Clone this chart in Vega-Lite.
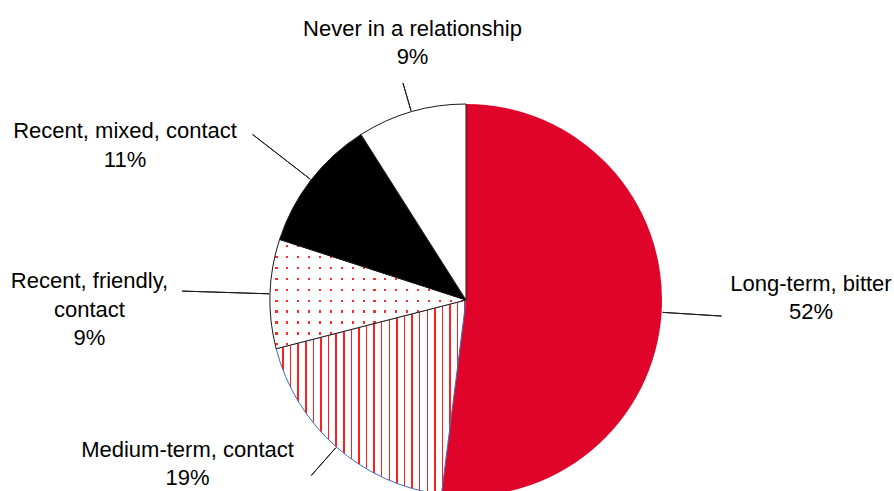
{
  "$schema": "https://vega.github.io/schema/vega-lite/v6.json",
  "width": 856,
  "height": 382,
  "padding": {"left": 38, "top": 109, "right": 0, "bottom": 0},
  "autosize": {"type": "none"},
  "background": "white",
  "config": {"view": {"stroke": null}},
  "data": {"values": [
    {"category": "Long-term, bitter", "pct": 52},
    {"category": "Medium-term, contact", "pct": 19},
    {"category": "Recent, friendly, contact", "pct": 9},
    {"category": "Recent, mixed, contact", "pct": 11},
    {"category": "Never in a relationship", "pct": 9}
  ]},
  "transform": [
    {"window": [{"op": "sum", "field": "pct", "as": "cum"}], "frame": [null, 0]},
    {"calculate": "datum.cum - datum.pct", "as": "start"},
    {"calculate": "datum.cum - datum.pct / 2", "as": "mid"},
    {"calculate": "replace(datum.category, 'friendly, ', 'friendly,|') + '|' + datum.pct + '%'", "as": "txt"}
  ],
  "layer": [
    {
      "transform": [{"filter": "datum.category == 'Long-term, bitter'"}],
      "mark": {"type": "arc", "outerRadius": 196, "fill": "#E0042B"},
      "encoding": {
        "theta": {"field": "start", "type": "quantitative", "stack": null, "scale": {"domain": [0, 100], "range": [0, 6.283185307179586]}},
        "theta2": {"field": "cum"}
      }
    },
    {
      "transform": [{"filter": "datum.category == 'Medium-term, contact'"}],
      "mark": {"type": "arc", "outerRadius": 196, "stroke": "#3A6FB5", "strokeWidth": 1,
        "fill": {"gradient": "linear", "x1": 0, "y1": 0, "x2": 1, "y2": 0, "stops": [
          {"offset": 0, "color": "#ffffff"},
          {"offset": 0.032, "color": "#ffffff"}, {"offset": 0.032, "color": "#ff1f1f"}, {"offset": 0.04, "color": "#ff1f1f"}, {"offset": 0.04, "color": "#ffffff"},
          {"offset": 0.072, "color": "#ffffff"}, {"offset": 0.072, "color": "#ff1f1f"}, {"offset": 0.08, "color": "#ff1f1f"}, {"offset": 0.08, "color": "#ffffff"},
          {"offset": 0.112, "color": "#ffffff"}, {"offset": 0.112, "color": "#ff1f1f"}, {"offset": 0.12, "color": "#ff1f1f"}, {"offset": 0.12, "color": "#ffffff"},
          {"offset": 0.152, "color": "#ffffff"}, {"offset": 0.152, "color": "#ff1f1f"}, {"offset": 0.16, "color": "#ff1f1f"}, {"offset": 0.16, "color": "#ffffff"},
          {"offset": 0.192, "color": "#ffffff"}, {"offset": 0.192, "color": "#ff1f1f"}, {"offset": 0.2, "color": "#ff1f1f"}, {"offset": 0.2, "color": "#ffffff"},
          {"offset": 0.232, "color": "#ffffff"}, {"offset": 0.232, "color": "#ff1f1f"}, {"offset": 0.24, "color": "#ff1f1f"}, {"offset": 0.24, "color": "#ffffff"},
          {"offset": 0.272, "color": "#ffffff"}, {"offset": 0.272, "color": "#ff1f1f"}, {"offset": 0.28, "color": "#ff1f1f"}, {"offset": 0.28, "color": "#ffffff"},
          {"offset": 0.312, "color": "#ffffff"}, {"offset": 0.312, "color": "#ff1f1f"}, {"offset": 0.32, "color": "#ff1f1f"}, {"offset": 0.32, "color": "#ffffff"},
          {"offset": 0.352, "color": "#ffffff"}, {"offset": 0.352, "color": "#ff1f1f"}, {"offset": 0.36, "color": "#ff1f1f"}, {"offset": 0.36, "color": "#ffffff"},
          {"offset": 0.392, "color": "#ffffff"}, {"offset": 0.392, "color": "#ff1f1f"}, {"offset": 0.4, "color": "#ff1f1f"}, {"offset": 0.4, "color": "#ffffff"},
          {"offset": 0.432, "color": "#ffffff"}, {"offset": 0.432, "color": "#ff1f1f"}, {"offset": 0.44, "color": "#ff1f1f"}, {"offset": 0.44, "color": "#ffffff"},
          {"offset": 0.472, "color": "#ffffff"}, {"offset": 0.472, "color": "#ff1f1f"}, {"offset": 0.48, "color": "#ff1f1f"}, {"offset": 0.48, "color": "#ffffff"},
          {"offset": 0.512, "color": "#ffffff"}, {"offset": 0.512, "color": "#ff1f1f"}, {"offset": 0.52, "color": "#ff1f1f"}, {"offset": 0.52, "color": "#ffffff"},
          {"offset": 0.552, "color": "#ffffff"}, {"offset": 0.552, "color": "#ff1f1f"}, {"offset": 0.56, "color": "#ff1f1f"}, {"offset": 0.56, "color": "#ffffff"},
          {"offset": 0.592, "color": "#ffffff"}, {"offset": 0.592, "color": "#ff1f1f"}, {"offset": 0.6, "color": "#ff1f1f"}, {"offset": 0.6, "color": "#ffffff"},
          {"offset": 0.632, "color": "#ffffff"}, {"offset": 0.632, "color": "#ff1f1f"}, {"offset": 0.64, "color": "#ff1f1f"}, {"offset": 0.64, "color": "#ffffff"},
          {"offset": 0.672, "color": "#ffffff"}, {"offset": 0.672, "color": "#ff1f1f"}, {"offset": 0.68, "color": "#ff1f1f"}, {"offset": 0.68, "color": "#ffffff"},
          {"offset": 0.712, "color": "#ffffff"}, {"offset": 0.712, "color": "#ff1f1f"}, {"offset": 0.72, "color": "#ff1f1f"}, {"offset": 0.72, "color": "#ffffff"},
          {"offset": 0.752, "color": "#ffffff"}, {"offset": 0.752, "color": "#ff1f1f"}, {"offset": 0.76, "color": "#ff1f1f"}, {"offset": 0.76, "color": "#ffffff"},
          {"offset": 0.792, "color": "#ffffff"}, {"offset": 0.792, "color": "#ff1f1f"}, {"offset": 0.8, "color": "#ff1f1f"}, {"offset": 0.8, "color": "#ffffff"},
          {"offset": 0.832, "color": "#ffffff"}, {"offset": 0.832, "color": "#ff1f1f"}, {"offset": 0.84, "color": "#ff1f1f"}, {"offset": 0.84, "color": "#ffffff"},
          {"offset": 0.872, "color": "#ffffff"}, {"offset": 0.872, "color": "#ff1f1f"}, {"offset": 0.88, "color": "#ff1f1f"}, {"offset": 0.88, "color": "#ffffff"},
          {"offset": 0.912, "color": "#ffffff"}, {"offset": 0.912, "color": "#ff1f1f"}, {"offset": 0.92, "color": "#ff1f1f"}, {"offset": 0.92, "color": "#ffffff"},
          {"offset": 0.952, "color": "#ffffff"}, {"offset": 0.952, "color": "#ff1f1f"}, {"offset": 0.96, "color": "#ff1f1f"}, {"offset": 0.96, "color": "#ffffff"},
          {"offset": 0.992, "color": "#ffffff"}, {"offset": 0.992, "color": "#ff1f1f"}, {"offset": 1, "color": "#ff1f1f"}
        ]}},
      "encoding": {
        "theta": {"field": "start", "type": "quantitative", "stack": null, "scale": {"domain": [0, 100], "range": [0, 6.283185307179586]}},
        "theta2": {"field": "cum"}
      }
    },
    {
      "transform": [{"filter": "datum.category == 'Recent, friendly, contact'"}],
      "layer": [
        {"mark": {"type": "arc", "outerRadius": 196, "fill": "#ff2a2a"}, "encoding": {
          "theta": {"field": "start", "type": "quantitative", "stack": null, "scale": {"domain": [0, 100], "range": [0, 6.283185307179586]}},
          "theta2": {"field": "cum"}}},
        {"mark": {"type": "arc", "outerRadius": 196,
          "fill": {"gradient": "linear", "x1": 0, "y1": 0, "x2": 1, "y2": 0, "stops": [
            {"offset": 0, "color": "#ffffff"},
            {"offset": 0.0278, "color": "#ffffff"}, {"offset": 0.0278, "color": "rgba(255,255,255,0)"}, {"offset": 0.0388, "color": "rgba(255,255,255,0)"}, {"offset": 0.0388, "color": "#ffffff"},
            {"offset": 0.0833, "color": "#ffffff"}, {"offset": 0.0833, "color": "rgba(255,255,255,0)"}, {"offset": 0.0943, "color": "rgba(255,255,255,0)"}, {"offset": 0.0943, "color": "#ffffff"},
            {"offset": 0.1389, "color": "#ffffff"}, {"offset": 0.1389, "color": "rgba(255,255,255,0)"}, {"offset": 0.1499, "color": "rgba(255,255,255,0)"}, {"offset": 0.1499, "color": "#ffffff"},
            {"offset": 0.1944, "color": "#ffffff"}, {"offset": 0.1944, "color": "rgba(255,255,255,0)"}, {"offset": 0.2054, "color": "rgba(255,255,255,0)"}, {"offset": 0.2054, "color": "#ffffff"},
            {"offset": 0.25, "color": "#ffffff"}, {"offset": 0.25, "color": "rgba(255,255,255,0)"}, {"offset": 0.261, "color": "rgba(255,255,255,0)"}, {"offset": 0.261, "color": "#ffffff"},
            {"offset": 0.3056, "color": "#ffffff"}, {"offset": 0.3056, "color": "rgba(255,255,255,0)"}, {"offset": 0.3166, "color": "rgba(255,255,255,0)"}, {"offset": 0.3166, "color": "#ffffff"},
            {"offset": 0.3611, "color": "#ffffff"}, {"offset": 0.3611, "color": "rgba(255,255,255,0)"}, {"offset": 0.3721, "color": "rgba(255,255,255,0)"}, {"offset": 0.3721, "color": "#ffffff"},
            {"offset": 0.4167, "color": "#ffffff"}, {"offset": 0.4167, "color": "rgba(255,255,255,0)"}, {"offset": 0.4277, "color": "rgba(255,255,255,0)"}, {"offset": 0.4277, "color": "#ffffff"},
            {"offset": 0.4722, "color": "#ffffff"}, {"offset": 0.4722, "color": "rgba(255,255,255,0)"}, {"offset": 0.4832, "color": "rgba(255,255,255,0)"}, {"offset": 0.4832, "color": "#ffffff"},
            {"offset": 0.5278, "color": "#ffffff"}, {"offset": 0.5278, "color": "rgba(255,255,255,0)"}, {"offset": 0.5388, "color": "rgba(255,255,255,0)"}, {"offset": 0.5388, "color": "#ffffff"},
            {"offset": 0.5833, "color": "#ffffff"}, {"offset": 0.5833, "color": "rgba(255,255,255,0)"}, {"offset": 0.5943, "color": "rgba(255,255,255,0)"}, {"offset": 0.5943, "color": "#ffffff"},
            {"offset": 0.6389, "color": "#ffffff"}, {"offset": 0.6389, "color": "rgba(255,255,255,0)"}, {"offset": 0.6499, "color": "rgba(255,255,255,0)"}, {"offset": 0.6499, "color": "#ffffff"},
            {"offset": 0.6944, "color": "#ffffff"}, {"offset": 0.6944, "color": "rgba(255,255,255,0)"}, {"offset": 0.7054, "color": "rgba(255,255,255,0)"}, {"offset": 0.7054, "color": "#ffffff"},
            {"offset": 0.75, "color": "#ffffff"}, {"offset": 0.75, "color": "rgba(255,255,255,0)"}, {"offset": 0.761, "color": "rgba(255,255,255,0)"}, {"offset": 0.761, "color": "#ffffff"},
            {"offset": 0.8056, "color": "#ffffff"}, {"offset": 0.8056, "color": "rgba(255,255,255,0)"}, {"offset": 0.8166, "color": "rgba(255,255,255,0)"}, {"offset": 0.8166, "color": "#ffffff"},
            {"offset": 0.8611, "color": "#ffffff"}, {"offset": 0.8611, "color": "rgba(255,255,255,0)"}, {"offset": 0.8721, "color": "rgba(255,255,255,0)"}, {"offset": 0.8721, "color": "#ffffff"},
            {"offset": 0.9167, "color": "#ffffff"}, {"offset": 0.9167, "color": "rgba(255,255,255,0)"}, {"offset": 0.9277, "color": "rgba(255,255,255,0)"}, {"offset": 0.9277, "color": "#ffffff"},
            {"offset": 0.9722, "color": "#ffffff"}, {"offset": 0.9722, "color": "rgba(255,255,255,0)"}, {"offset": 0.9832, "color": "rgba(255,255,255,0)"}, {"offset": 0.9832, "color": "#ffffff"},
            {"offset": 1, "color": "#ffffff"}
          ]}},
          "encoding": {
          "theta": {"field": "start", "type": "quantitative", "stack": null, "scale": {"domain": [0, 100], "range": [0, 6.283185307179586]}},
          "theta2": {"field": "cum"}}},
        {"mark": {"type": "arc", "outerRadius": 196, "stroke": "#1a1a1a", "strokeWidth": 1,
          "fill": {"gradient": "linear", "x1": 0, "y1": 0, "x2": 0, "y2": 1, "stops": [
            {"offset": 0, "color": "#ffffff"},
            {"offset": 0.05, "color": "#ffffff"}, {"offset": 0.05, "color": "rgba(255,255,255,0)"}, {"offset": 0.07, "color": "rgba(255,255,255,0)"}, {"offset": 0.07, "color": "#ffffff"},
            {"offset": 0.15, "color": "#ffffff"}, {"offset": 0.15, "color": "rgba(255,255,255,0)"}, {"offset": 0.17, "color": "rgba(255,255,255,0)"}, {"offset": 0.17, "color": "#ffffff"},
            {"offset": 0.25, "color": "#ffffff"}, {"offset": 0.25, "color": "rgba(255,255,255,0)"}, {"offset": 0.27, "color": "rgba(255,255,255,0)"}, {"offset": 0.27, "color": "#ffffff"},
            {"offset": 0.35, "color": "#ffffff"}, {"offset": 0.35, "color": "rgba(255,255,255,0)"}, {"offset": 0.37, "color": "rgba(255,255,255,0)"}, {"offset": 0.37, "color": "#ffffff"},
            {"offset": 0.45, "color": "#ffffff"}, {"offset": 0.45, "color": "rgba(255,255,255,0)"}, {"offset": 0.47, "color": "rgba(255,255,255,0)"}, {"offset": 0.47, "color": "#ffffff"},
            {"offset": 0.55, "color": "#ffffff"}, {"offset": 0.55, "color": "rgba(255,255,255,0)"}, {"offset": 0.57, "color": "rgba(255,255,255,0)"}, {"offset": 0.57, "color": "#ffffff"},
            {"offset": 0.65, "color": "#ffffff"}, {"offset": 0.65, "color": "rgba(255,255,255,0)"}, {"offset": 0.67, "color": "rgba(255,255,255,0)"}, {"offset": 0.67, "color": "#ffffff"},
            {"offset": 0.75, "color": "#ffffff"}, {"offset": 0.75, "color": "rgba(255,255,255,0)"}, {"offset": 0.77, "color": "rgba(255,255,255,0)"}, {"offset": 0.77, "color": "#ffffff"},
            {"offset": 0.85, "color": "#ffffff"}, {"offset": 0.85, "color": "rgba(255,255,255,0)"}, {"offset": 0.87, "color": "rgba(255,255,255,0)"}, {"offset": 0.87, "color": "#ffffff"},
            {"offset": 0.95, "color": "#ffffff"}, {"offset": 0.95, "color": "rgba(255,255,255,0)"}, {"offset": 0.97, "color": "rgba(255,255,255,0)"}, {"offset": 0.97, "color": "#ffffff"},
            {"offset": 1, "color": "#ffffff"}
          ]}},
          "encoding": {
          "theta": {"field": "start", "type": "quantitative", "stack": null, "scale": {"domain": [0, 100], "range": [0, 6.283185307179586]}},
          "theta2": {"field": "cum"}}}
      ]
    },
    {
      "transform": [{"filter": "datum.category == 'Recent, mixed, contact'"}],
      "mark": {"type": "arc", "outerRadius": 196, "fill": "#000000", "stroke": "#1a1a1a", "strokeWidth": 1},
      "encoding": {
        "theta": {"field": "start", "type": "quantitative", "stack": null, "scale": {"domain": [0, 100], "range": [0, 6.283185307179586]}},
        "theta2": {"field": "cum"}
      }
    },
    {
      "transform": [{"filter": "datum.category == 'Never in a relationship'"}],
      "mark": {"type": "arc", "outerRadius": 196, "fill": "#ffffff", "stroke": "#1a1a1a", "strokeWidth": 1},
      "encoding": {
        "theta": {"field": "start", "type": "quantitative", "stack": null, "scale": {"domain": [0, 100], "range": [0, 6.283185307179586]}},
        "theta2": {"field": "cum"}
      }
    },
    {
      "transform": [{"filter": "datum.category == 'Long-term, bitter'"}],
      "layer": [
        {"mark": {"type": "arc", "innerRadius": 197, "outerRadius": 256, "stroke": "#1a1a1a", "strokeWidth": 1, "fill": null},
         "encoding": {"theta": {"field": "mid", "type": "quantitative", "stack": null, "scale": {"domain": [0, 100], "range": [0, 6.283185307179586]}}, "theta2": {"field": "mid"}}},
        {"mark": {"type": "text", "radius": 215, "dx": 130.4, "dy": -22.5, "align": "center", "baseline": "alphabetic", "lineBreak": "|", "lineHeight": 28.5, "font": "Liberation Sans", "fontSize": 22, "color": "#000000"},
         "encoding": {"theta": {"field": "mid", "type": "quantitative", "stack": null, "scale": {"domain": [0, 100], "range": [0, 6.283185307179586]}}, "text": {"field": "txt"}}}
      ]
    },
    {
      "transform": [{"filter": "datum.category == 'Medium-term, contact'"}],
      "layer": [
        {"mark": {"type": "arc", "innerRadius": 197, "outerRadius": 234, "stroke": "#1a1a1a", "strokeWidth": 1, "fill": null},
         "encoding": {"theta": {"field": "mid", "type": "quantitative", "stack": null, "scale": {"domain": [0, 100], "range": [0, 6.283185307179586]}}, "theta2": {"field": "mid"}}},
        {"mark": {"type": "text", "radius": 215, "dx": -136.3, "dy": -4.3, "align": "center", "baseline": "alphabetic", "lineBreak": "|", "lineHeight": 28.5, "font": "Liberation Sans", "fontSize": 22, "color": "#000000"},
         "encoding": {"theta": {"field": "mid", "type": "quantitative", "stack": null, "scale": {"domain": [0, 100], "range": [0, 6.283185307179586]}}, "text": {"field": "txt"}}}
      ]
    },
    {
      "transform": [{"filter": "datum.category == 'Recent, friendly, contact'"}],
      "layer": [
        {"mark": {"type": "arc", "innerRadius": 197, "outerRadius": 284, "stroke": "#1a1a1a", "strokeWidth": 1, "fill": null},
         "encoding": {"theta": {"field": "mid", "type": "quantitative", "stack": null, "scale": {"domain": [0, 100], "range": [0, 6.283185307179586]}}, "theta2": {"field": "mid"}}},
        {"mark": {"type": "text", "radius": 215, "dx": -161.6, "dy": -5.2, "align": "center", "baseline": "alphabetic", "lineBreak": "|", "lineHeight": 28.5, "font": "Liberation Sans", "fontSize": 22, "color": "#000000"},
         "encoding": {"theta": {"field": "mid", "type": "quantitative", "stack": null, "scale": {"domain": [0, 100], "range": [0, 6.283185307179586]}}, "text": {"field": "txt"}}}
      ]
    },
    {
      "transform": [{"filter": "datum.category == 'Recent, mixed, contact'"}],
      "layer": [
        {"mark": {"type": "arc", "innerRadius": 197, "outerRadius": 270, "stroke": "#1a1a1a", "strokeWidth": 1, "fill": null},
         "encoding": {"theta": {"field": "mid", "type": "quantitative", "stack": null, "scale": {"domain": [0, 100], "range": [0, 6.283185307179586]}}, "theta2": {"field": "mid"}}},
        {"mark": {"type": "text", "radius": 215, "dx": -171.1, "dy": -29.9, "align": "center", "baseline": "alphabetic", "lineBreak": "|", "lineHeight": 28.5, "font": "Liberation Sans", "fontSize": 22, "color": "#000000"},
         "encoding": {"theta": {"field": "mid", "type": "quantitative", "stack": null, "scale": {"domain": [0, 100], "range": [0, 6.283185307179586]}}, "text": {"field": "txt"}}}
      ]
    },
    {
      "transform": [{"filter": "datum.category == 'Never in a relationship'"}],
      "layer": [
        {"mark": {"type": "arc", "innerRadius": 197, "outerRadius": 226, "stroke": "#1a1a1a", "strokeWidth": 1, "fill": null},
         "encoding": {"theta": {"field": "mid", "type": "quantitative", "stack": null, "scale": {"domain": [0, 100], "range": [0, 6.283185307179586]}}, "theta2": {"field": "mid"}}},
        {"mark": {"type": "text", "radius": 215, "dx": 6.5, "dy": -57.8, "align": "center", "baseline": "alphabetic", "lineBreak": "|", "lineHeight": 28.5, "font": "Liberation Sans", "fontSize": 22, "color": "#000000"},
         "encoding": {"theta": {"field": "mid", "type": "quantitative", "stack": null, "scale": {"domain": [0, 100], "range": [0, 6.283185307179586]}}, "text": {"field": "txt"}}}
      ]
    }
  ]
}
